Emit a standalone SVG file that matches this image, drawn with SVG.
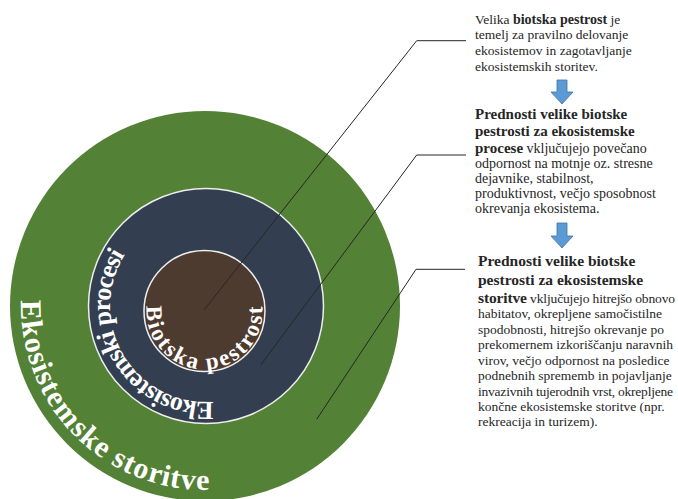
<svg xmlns="http://www.w3.org/2000/svg" width="678" height="499" viewBox="0 0 678 499">
  <style>
    .txt { font-family: "Liberation Serif", "Times New Roman", serif; fill: #262626; font-size: 13.5px; }
    .b { font-weight: bold; }
    .head { font-weight: bold; font-size: 15px; }
    .head3 { font-weight: bold; font-size: 15.5px; }
    .t2 { font-size: 14px; }
    .ring { font-family: "Liberation Serif", "Times New Roman", serif; font-weight: bold; fill: #ffffff; dominant-baseline: central; }
    .conn { fill: none; stroke: #262626; stroke-width: 1; }
    .arrow { fill: #5B9BD5; stroke: #41719C; stroke-width: 0.8; }
  </style>
  <defs>
    <!-- mid-height guide arcs for the ring labels -->
    <path id="arcGreen" d="M32.1,300 A173,173 0 0 0 209.5,478.9"/>
    <path id="arcNavy" d="M213.3,410.7 A105,105 0 0 1 117,250.4"/>
    <path id="arcBrown" d="M154.8,305.8 A50,50 0 1 0 254.2,305.8"/>
  </defs>

  <!-- concentric circles -->
  <g id="ekosistemske-storitve">
    <circle cx="205" cy="306" r="195" fill="#538135"/>
    <text class="ring" font-size="30"><textPath href="#arcGreen" textLength="282" lengthAdjust="spacing">Ekosistemske storitve</textPath></text>
  </g>
  <g id="ekosistemski-procesi">
    <circle cx="206" cy="306" r="117.5" fill="#333F50" stroke="#eeeeee" stroke-width="1.5"/>
    <text class="ring" font-size="26"><textPath href="#arcNavy" textLength="231" lengthAdjust="spacing">Ekosistemski procesi</textPath></text>
  </g>
  <g id="biotska-pestrost">
    <circle cx="204.5" cy="311" r="60.5" fill="#4E3B30" stroke="#eeeeee" stroke-width="1.5"/>
    <text class="ring" font-size="23"><textPath href="#arcBrown" textLength="167" lengthAdjust="spacing">Biotska pestrost</textPath></text>
  </g>

  <!-- leader lines -->
  <g id="connectors">
    <polyline class="conn" points="204,310 416.7,40.7 466,40.7"/>
    <polyline class="conn" points="260.7,365 416.7,155 466,155"/>
    <polyline class="conn" points="316.7,419.3 416,269.3 465,269.3"/>
  </g>

  <!-- explanation blocks -->
  <g id="opis-1">
    <text class="txt" x="475" y="23.5">Velika <tspan class="b" font-size="14">biotska pestrost</tspan> je</text>
    <text class="txt" x="475" y="39">temelj za pravilno delovanje</text>
    <text class="txt" x="475" y="55">ekosistemov in zagotavljanje</text>
    <text class="txt" x="475" y="70.5">ekosistemskih storitev.</text>
  </g>
  <g id="puscica-1">
    <polygon class="arrow" points="557,80 567,80 567,92 573,92 562,104 551,92 557,92"/>
  </g>
  <g id="opis-2">
    <text class="txt head" x="475" y="119">Prednosti velike biotske</text>
    <text class="txt head" x="475" y="135.5">pestrosti za ekosistemske</text>
    <text class="txt t2" x="475" y="153"><tspan class="head">procese</tspan> vključujejo povečano</text>
    <text class="txt t2" x="475" y="168">odpornost na motnje oz. stresne</text>
    <text class="txt t2" x="475" y="183">dejavnike, stabilnost,</text>
    <text class="txt t2" x="475" y="198">produktivnost, večjo sposobnost</text>
    <text class="txt t2" x="475" y="213">okrevanja ekosistema.</text>
  </g>
  <g id="puscica-2">
    <polygon class="arrow" points="557,223 567,223 567,236 573,236 562,248 551,236 557,236"/>
  </g>
  <g id="opis-3">
    <text class="txt head3" x="478" y="266">Prednosti velike biotske</text>
    <text class="txt head3" x="478" y="284.5">pestrosti za ekosistemske</text>
    <text class="txt" x="478" y="302.5" textLength="197" lengthAdjust="spacing"><tspan class="head3">storitve</tspan> vključujejo hitrejšo obnovo</text>
    <text class="txt" x="478" y="318">habitatov, okrepljene samočistilne</text>
    <text class="txt" x="478" y="333.5">spodobnosti, hitrejšo okrevanje po</text>
    <text class="txt" x="478" y="349">prekomernem izkoriščanju naravnih</text>
    <text class="txt" x="478" y="364.5">virov, večjo odpornost na posledice</text>
    <text class="txt" x="478" y="380">podnebnih sprememb in pojavljanje</text>
    <text class="txt" x="478" y="395.5" textLength="195" lengthAdjust="spacing">invazivnih tujerodnih vrst, okrepljene</text>
    <text class="txt" x="478" y="411">končne ekosistemske storitve (npr.</text>
    <text class="txt" x="478" y="426">rekreacija in turizem).</text>
  </g>
</svg>
